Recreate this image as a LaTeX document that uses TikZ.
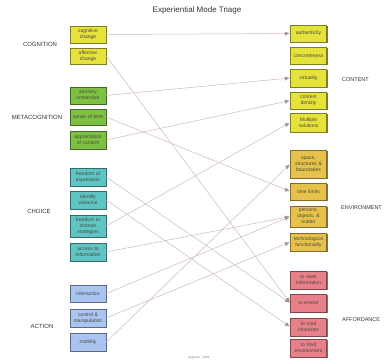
\documentclass[tikz,border=0pt]{standalone}
\usepackage{fontspec}
\setmainfont{Liberation Sans}
\usetikzlibrary{arrows.meta,shadows}

\definecolor{cogyellow}{HTML}{E6E23C}
\definecolor{metagreen}{HTML}{7DC142}
\definecolor{choiceteal}{HTML}{5EC4C4}
\definecolor{actionblue}{HTML}{A9C4F0}
\definecolor{envgold}{HTML}{E6C24C}
\definecolor{affpink}{HTML}{E8808A}
\definecolor{linkgray}{HTML}{CDB8C0}
\definecolor{tipgray}{HTML}{A8929A}
\definecolor{boxtext}{HTML}{4A4A3A}

\tikzset{
  modebox/.style={draw=#1!55!black, fill=#1, line width=0.4pt,
    inner sep=0pt, minimum width=36pt, text width=35pt, align=center,
    text=boxtext, font=\fontsize{5}{6}\selectfont,
    drop shadow={shadow xshift=1.3pt, shadow yshift=-1.3pt, fill=black!55, opacity=1}},
  grouplabel/.style={font=\fontsize{6}{7}\selectfont, text=black!80},
  sidelabel/.style={grouplabel, font=\fontsize{5.5}{6.5}\selectfont, anchor=west, inner sep=0pt},
  link/.style={draw=linkgray, line width=0.5pt,
    -{Triangle[length=4.5pt,width=4pt,color=tipgray,fill=tipgray]}, shorten >=1pt}
}

\begin{document}
\begin{tikzpicture}[x=1pt,y=-1pt]
	\useasboundingbox (0,0) rectangle (385,361);
	\node[font=\fontsize{8}{9}\selectfont, text=black!80] (title) at (197,10) {Experiential Mode Triage};
	% left column
	\node[modebox=cogyellow, minimum height=17pt] (cogch) at (88,34.5) {cognitive\\change};
	\node[modebox=cogyellow, minimum height=16pt] (affch) at (88,56) {affective\\change};
	\node[modebox=metagreen, minimum height=17pt] (sensim) at (88,95.5) {sensory\\immersion};
	\node[modebox=metagreen, minimum height=16pt] (sensetime) at (88,117) {sense of time};
	\node[modebox=metagreen, minimum height=18pt] (apprec) at (88,140) {appreciation\\of content};
	\node[modebox=choiceteal, minimum height=18pt] (freeexp) at (88,177) {freedom of\\expression};
	\node[modebox=choiceteal, minimum height=18pt] (identvar) at (88,200) {identify\\variance};
	\node[modebox=choiceteal, minimum height=22pt] (freestrat) at (88,226) {freedom to\\choose\\strategies};
	\node[modebox=choiceteal, minimum height=18pt] (accinfo) at (88,252) {access to\\information};
	\node[modebox=actionblue, minimum height=17pt] (interact) at (88,293.5) {interaction};
	\node[modebox=actionblue, minimum height=18pt] (ctrlmanip) at (88,318) {control \&\\manipulation};
	\node[modebox=actionblue, minimum height=18pt] (mobil) at (88,342) {mobility};
	% right column
	\node[modebox=cogyellow, minimum height=17pt] (auth) at (308.5,33.5) {authenticity};
	\node[modebox=cogyellow, minimum height=17pt] (concr) at (308.5,55.5) {concreteness};
	\node[modebox=cogyellow, minimum height=18pt] (virt) at (308.5,78) {virtuality};
	\node[modebox=cogyellow, minimum height=17pt] (cdens) at (308.5,100.5) {content\\density};
	\node[modebox=cogyellow, minimum height=19pt] (multsol) at (308.5,122.5) {Multiple\\solutions};
	\node[modebox=envgold, minimum height=28pt] (space) at (308.5,164) {space,\\structures \&\\boundaries};
	\node[modebox=envgold, minimum height=17pt] (timelim) at (308.5,191.5) {time limits};
	\node[modebox=envgold, minimum height=21pt] (persons) at (308.5,216.5) {persons,\\objects, \&\\matter};
	\node[modebox=envgold, minimum height=18pt] (techfunc) at (308.5,242) {technological\\functionality};
	\node[modebox=affpink, minimum height=18pt] (seekinfo) at (308.5,280) {to seek\\information};
	\node[modebox=affpink, minimum height=18pt] (emote) at (308.5,303) {to emote};
	\node[modebox=affpink, minimum height=18pt] (modchar) at (308.5,327) {to mod\\character};
	\node[modebox=affpink, minimum height=18pt] (modenv) at (308.5,348) {to mod\\environment};
	% group labels
	\node[grouplabel] (lcog) at (40,44) {COGNITION};
	\node[grouplabel] (lmeta) at (37,117) {METACOGNITION};
	\node[grouplabel] (lchoice) at (39,211) {CHOICE};
	\node[grouplabel] (laction) at (42,326) {ACTION};
	\node[sidelabel] (lcontent) at (342,80) {CONTENT};
	\node[sidelabel] (lenv) at (341,208) {ENVIRONMENT};
	\node[sidelabel] (lafford) at (342,320) {AFFORDANCE};
	\node[font=\fontsize{3}{3.5}\selectfont, text=black!50] (credit) at (199,358) {Appleton - 2006};
	% links
	\draw[link] (cogch.east) -- (auth.west);
	\draw[link] (affch.east) -- (emote.west);
	\draw[link] (sensim.east) -- (virt.west);
	\draw[link] (sensetime.east) -- (timelim.west);
	\draw[link] (apprec.east) -- (cdens.west);
	\draw[link] (freeexp.east) -- (emote.west);
	\draw[link] (identvar.east) -- (modchar.west);
	\draw[link] (freestrat.east) -- (multsol.west);
	\draw[link] (accinfo.east) -- (persons.west);
	\draw[link] (interact.east) -- (persons.west);
	\draw[link] (ctrlmanip.east) -- (techfunc.west);
	\draw[link] (mobil.east) -- (space.west);
\end{tikzpicture}
\end{document}
